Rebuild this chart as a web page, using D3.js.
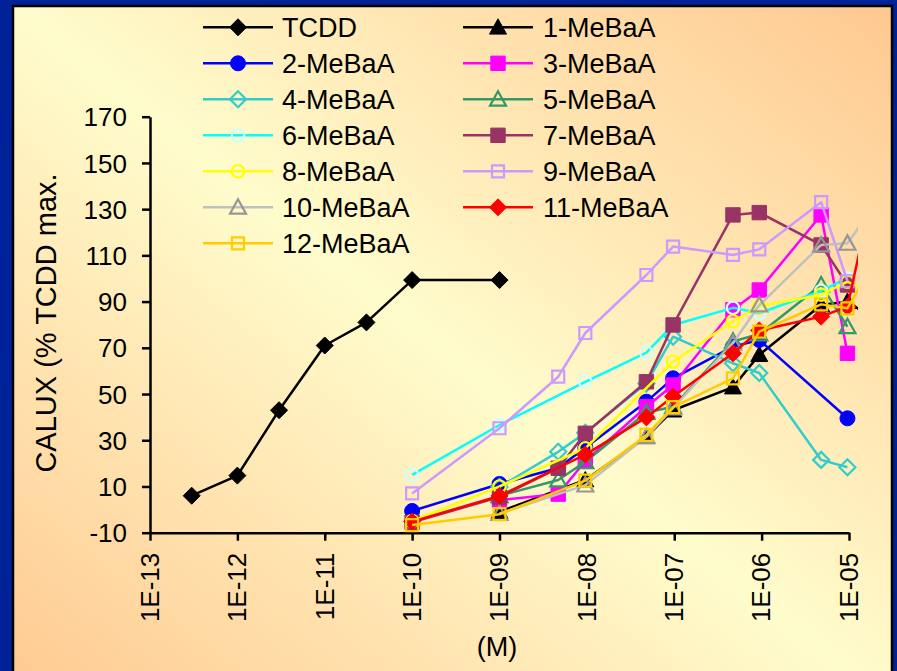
<!DOCTYPE html>
<html>
<head>
<meta charset="utf-8">
<script src="https://cdn.jsdelivr.net/npm/d3@7"></script>
<style>
  html, body { margin: 0; padding: 0; background: #002299; }
  svg { display: block; font-family: Arial, "Liberation Sans", sans-serif; }
</style>
</head>
<body>
<div id="chart"></div>
<script>
// TCDD doses (M) and response
const tcddDoses = [3e-13, 1e-12, 3e-12, 1e-11, 3e-11, 1e-10, 1e-9];
const tcddValues = [6, 14.7, 43, 71, 81, 99.3, 99.3];

// MeBaA doses (M), last one lies just past the axis end
const doses = [1e-10, 1e-9, 4.7e-9, 9.6e-9, 4.8e-8, 9.7e-8, 4.7e-7, 9.4e-7, 4.8e-6, 9.6e-6, 2e-5];

const me1  = [null, -0.9, null, 12.8, 31.5, 43, 53, 67, 88.5, 90, 82];
const me2  = [-0.6, 11.1, 18, 26.8, 46.7, 56.8, 70.5, 73.4, null, 39.5, null];
const me3  = [null, 4.1, 6.7, 21, 44.5, 53.9, 86.5, 95, 127.5, 67.6, null];
const me4  = [null, 9.8, 25, 33.2, 54.6, 74.8, 63.3, 59.1, 21.5, 18.3, null];
const me5  = [null, 6, 12.8, 20.7, 42, 44.5, 72.8, 76, 97.2, 79.1, null];
const me6  = [15, 36.6, null, 55.3, 67.9, 79.9, 87.3, 85, 94.6, 100.1, null];
const me7  = [-5.5, 5.4, 17.9, 33, 55.3, 79.9, 127.5, 128.5, 114.5, 97.2, null];
const me8  = [-5, 10, null, 26.5, null, 64, 81.5, 88, 93, 98.6, 93];
const me9  = [7, 35.2, 57.5, 76.4, 101.5, 113.8, 110.2, 112.6, 133, 98.8, null];
const me10 = [null, -1.7, null, 10.6, 31.5, 44, 72, 88.5, 114.5, 115.2, 132];
const me11 = [-5.2, 5.9, null, 23.8, 39.9, 48.9, 67.6, 77.5, 83.5, 87.8, 143];
const me12 = [-6.7, -2, null, 12.5, 32.3, 44.3, 56.8, 77, 88.8, 87.1, 108];

const seriesNames = ['TCDD', '1-MeBaA', '2-MeBaA', '3-MeBaA', '4-MeBaA', '5-MeBaA', '6-MeBaA',
  '7-MeBaA', '8-MeBaA', '9-MeBaA', '10-MeBaA', '11-MeBaA', '12-MeBaA'];

const xTickValues = [1e-13, 1e-12, 1e-11, 1e-10, 1e-9, 1e-8, 1e-7, 1e-6, 1e-5];
const xTickLabels = ['1E-13', '1E-12', '1E-11', '1E-10', '1E-09', '1E-08', '1E-07', '1E-06', '1E-05'];
const yTickValues = [-10, 10, 30, 50, 70, 90, 110, 130, 150, 170];

// look of each series: line colour, marker shape, marker stroke, marker fill
const STYLES = [
  { line: '#000000', shape: 'diamond',  stroke: '#000000', fill: '#000000', r: 8.5 },
  { line: '#000000', shape: 'triangle', stroke: '#000000', fill: '#000000', r: 8.5 },
  { line: '#0000ff', shape: 'circle',   stroke: '#0000ff', fill: '#0000ff', r: 7.5 },
  { line: '#ff00ff', shape: 'square',   stroke: '#ff00ff', fill: '#ff00ff', r: 7.2 },
  { line: '#33cccc', shape: 'diamond',  stroke: '#33cccc', fill: 'none',    r: 8 },
  { line: '#339966', shape: 'triangle', stroke: '#339966', fill: 'none',    r: 8 },
  { line: '#00ffff', shape: 'circle',   stroke: '#ccffff', fill: 'none',    r: 6.2 },
  { line: '#993366', shape: 'square',   stroke: '#993366', fill: '#993366', r: 7.2 },
  { line: '#ffff00', shape: 'circle',   stroke: '#ffff00', fill: 'none',    r: 6.2 },
  { line: '#cc99ff', shape: 'square',   stroke: '#cc99ff', fill: 'none',    r: 6 },
  { line: '#c0c0c0', shape: 'triangle', stroke: '#969696', fill: 'none',    r: 8 },
  { line: '#ff0000', shape: 'diamond',  stroke: '#ff0000', fill: '#ff0000', r: 8.5 },
  { line: '#ffcc00', shape: 'square',   stroke: '#ffcc00', fill: 'none',    r: 6 }
];

function markerPath(shape, r) {
  if (shape === 'diamond') return `M0,${-r}L${r},0L0,${r}L${-r},0Z`;
  if (shape === 'square') return `M${-r},${-r}H${r}V${r}H${-r}Z`;
  if (shape === 'triangle') return `M0,${-r}L${r},${r * 0.8}L${-r},${r * 0.8}Z`;
  return `M${r},0A${r},${r},0,1,1,${-r},0A${r},${r},0,1,1,${r},0Z`;
}

const W = 897, H = 671;
const svg = d3.select('#chart').append('svg').attr('width', W).attr('height', H);

const defs = svg.append('defs');
const grad = defs.append('linearGradient').attr('id', 'bg')
  .attr('x1', 0).attr('y1', 1).attr('x2', 1).attr('y2', 0);
grad.append('stop').attr('offset', 0).attr('stop-color', '#ffc890');
grad.append('stop').attr('offset', 0.5).attr('stop-color', '#fffccc');
grad.append('stop').attr('offset', 1).attr('stop-color', '#ffc890');

defs.append('clipPath').attr('id', 'plotclip')
  .append('rect').attr('x', 130).attr('y', 90).attr('width', 728).attr('height', 460);

svg.append('rect').attr('width', W).attr('height', H).attr('fill', '#002299');
svg.append('rect')
  .attr('x', 13).attr('y', 6).attr('width', 879).attr('height', 700)
  .attr('fill', 'url(#bg)').attr('stroke', '#000').attr('stroke-width', 2.5);

const x = d3.scaleLog().domain([1e-13, 1e-5]).range([150, 849]);
const y = d3.scaleLinear().domain([-10, 170]).range([532.7, 116.7]);

// axes
const yAxis = svg.append('g').attr('transform', `translate(${x.range()[0]},0)`)
  .call(d3.axisLeft(y).tickValues(yTickValues).tickFormat(d => String(d))
    .tickSize(8).tickPadding(15).tickSizeOuter(0));
yAxis.select('.domain').attr('stroke-width', 2.5);
yAxis.selectAll('.tick line').attr('stroke-width', 2.5);
yAxis.selectAll('.tick text').attr('font-size', 26).attr('font-family', 'Arial, "Liberation Sans", sans-serif')
  .attr('dy', '0.35em').attr('fill', '#000');

const xAxis = svg.append('g').attr('transform', `translate(0,${y(-10)})`)
  .call(d3.axisBottom(x).tickValues(xTickValues).tickFormat((d, i) => xTickLabels[i])
    .tickSize(8).tickSizeOuter(0));
xAxis.select('.domain').attr('stroke-width', 2.5);
xAxis.selectAll('.tick line').attr('stroke-width', 2.5);
xAxis.selectAll('.tick text')
  .attr('font-size', 26).attr('font-family', 'Arial, "Liberation Sans", sans-serif').attr('fill', '#000')
  .attr('text-anchor', 'end')
  .attr('transform', 'rotate(-90)')
  .attr('x', -20).attr('y', 0).attr('dy', '0.32em');

svg.append('text')
  .attr('transform', 'translate(56,323) rotate(-90)')
  .attr('text-anchor', 'middle').attr('font-size', 29)
  .text('CALUX (% TCDD max.');

svg.append('text')
  .attr('x', 497).attr('y', 656)
  .attr('text-anchor', 'middle').attr('font-size', 27)
  .text('(M)');

// series
const meValues = [me1, me2, me3, me4, me5, me6, me7, me8, me9, me10, me11, me12];
const allSeries = [tcddDoses.map((d, i) => [d, tcddValues[i]])]
  .concat(meValues.map(vals => doses.map((d, i) => [d, vals[i]]).filter(p => p[1] !== null)));

const line = d3.line().x(d => x(d[0])).y(d => y(d[1]));
const plot = svg.append('g').attr('clip-path', 'url(#plotclip)');

allSeries.forEach((pts, si) => {
  const st = STYLES[si];
  const g = plot.append('g');
  g.append('path').datum(pts)
    .attr('d', line).attr('fill', 'none')
    .attr('stroke', st.line).attr('stroke-width', 2.5).attr('stroke-linejoin', 'round');
  g.selectAll('path.m').data(pts).join('path').attr('class', 'm')
    .attr('transform', d => `translate(${x(d[0])},${y(d[1])})`)
    .attr('d', markerPath(st.shape, st.r))
    .attr('fill', st.fill).attr('stroke', st.stroke)
    .attr('stroke-width', st.fill === 'none' ? 2.2 : 1);
});

// legend, two columns filled row by row
const legCols = [{ x0: 203, x1: 273, tx: 282 }, { x0: 463, x1: 533, tx: 543 }];
const legend = svg.append('g');
seriesNames.forEach((name, i) => {
  const c = legCols[i % 2];
  const ly = 27.3 + 36 * Math.floor(i / 2);
  const st = STYLES[i];
  const g = legend.append('g');
  g.append('line').attr('x1', c.x0).attr('x2', c.x1).attr('y1', ly).attr('y2', ly)
    .attr('stroke', st.line).attr('stroke-width', 2.5);
  g.append('path')
    .attr('transform', `translate(${(c.x0 + c.x1) / 2},${ly})`)
    .attr('d', markerPath(st.shape, st.r))
    .attr('fill', st.fill).attr('stroke', st.stroke)
    .attr('stroke-width', st.fill === 'none' ? 2.2 : 1);
  g.append('text').attr('x', c.tx).attr('y', ly).attr('dy', '0.36em')
    .attr('font-size', 27).text(name);
});
</script>
</body>
</html>
